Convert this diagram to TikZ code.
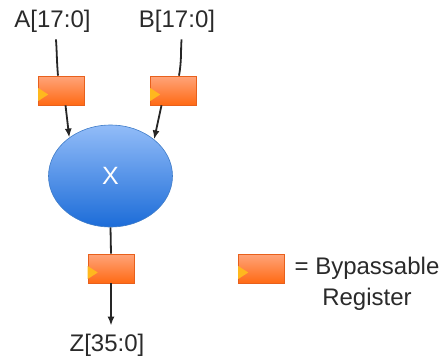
\documentclass[tikz,border=0pt]{standalone}
\usepackage{fontspec}
\setmainfont{Liberation Sans}
\usetikzlibrary{arrows.meta,shapes.geometric}
\definecolor{regTop}{HTML}{FFA47A}
\definecolor{regBot}{HTML}{FF6A14}
\definecolor{regEdge}{HTML}{E8601C}
\definecolor{mulTop}{HTML}{92BCF8}
\definecolor{mulBot}{HTML}{1C6CD8}
\definecolor{mulEdge}{HTML}{3F7CC8}
\definecolor{clkFill}{HTML}{FFB81E}
\definecolor{wireGray}{HTML}{262626}
\definecolor{textGray}{HTML}{2A2A2A}

\begin{document}
\begin{tikzpicture}
[x=1pt,y=-1pt,
  regDecorate/.style={shape=rectangle,minimum width=46pt,minimum height=29pt,
    inner sep=0pt,draw=regEdge,line width=0.6pt,top color=regTop,bottom color=regBot},%
  mulDecorate/.style={shape=ellipse,minimum width=124pt,minimum height=102pt,
    inner sep=0pt,draw=mulEdge,line width=0.6pt,top color=mulTop,bottom color=mulBot,
    text=white,font=\fontsize{25}{29}\selectfont},%
  labelDecorate/.style={text=textGray,font=\fontsize{24}{28}\selectfont,inner sep=2pt},%
  clkDecorate/.style={fill=clkFill},%
  lineDecorate/.style={-{Latex[length=9pt,width=7pt]},draw=wireGray,line width=1.8pt},%
  wireDecorate/.style={-,draw=wireGray,line width=1.8pt}]
\useasboundingbox (0,0) rectangle (446,362);
%% labels
\foreach \nodename/\x/\y/\txt in {
  labA/52.5/21/{A[17:0]}, labB/177/21/{B[17:0]}, labZ/107/345/{Z[35:0]}}
{
  \node (\nodename) at (\x,\y) [labelDecorate] {\txt};
}
%% registers
\foreach \nodename/\x/\y in {
  regA/61.5/90.5, regB/173.5/90.5, regZ/111/268.5, regL/261.5/268.5}
{
  \node (\nodename) at (\x,\y) [regDecorate] {};
  \fill[clkDecorate] ([yshift=-4pt]\nodename.west) ++(0,-6.5) -- ++(10,6.5) -- ++(-10,6.5) -- cycle;
}
%% multiplier
\node (mul) at (110.5,176) [mulDecorate] {X};
\node (legend) at (367,284) [labelDecorate,align=center,
  font=\fontsize{24}{31}\selectfont] {= Bypassable\\Register};
%% wires
\draw[wireDecorate,shorten <=5pt] ([xshift=3pt]labA.south) to[out=-85,in=95] ([xshift=-3.5pt]regA.north);
\draw[wireDecorate,shorten <=5pt] ([xshift=5pt]labB.south) to[out=-95,in=80] ([xshift=5.5pt]regB.north);
\draw[lineDecorate] ([xshift=4pt]regA.south) -- (mul.137);
\draw[lineDecorate] ([xshift=-12pt]regB.south) -- (mul.40);
\draw[wireDecorate] (mul.south) -- (regZ.north);
\draw[lineDecorate,shorten >=6pt] (regZ.south) -- (regZ.south |- labZ.north);
\end{tikzpicture}
\end{document}
